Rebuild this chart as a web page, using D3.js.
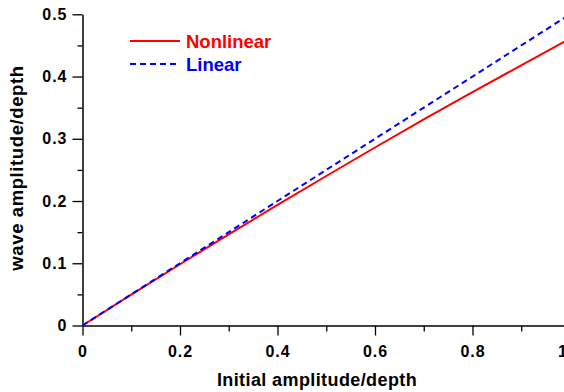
<!DOCTYPE html>
<html>
<head>
<meta charset="utf-8">
<script src="https://cdn.jsdelivr.net/npm/d3@7"></script>
<style>
  body { margin: 0; background: #fff; }
  svg { display: block; font-family: "Liberation Sans", Arial, sans-serif; font-weight: bold; }
</style>
</head>
<body>
<div id="chart"></div>
<script>
// values
var xValues = [0, 0.1, 0.2, 0.3, 0.4, 0.5, 0.6, 0.7, 0.8, 0.9, 1.0];
var nonlinear = [0, 0.0496, 0.0984, 0.1465, 0.1938, 0.2402, 0.286, 0.331, 0.375, 0.418, 0.461];
var linear = [0, 0.05, 0.10, 0.15, 0.20, 0.25, 0.30, 0.35, 0.40, 0.45, 0.50];
var xTicks = [0, 0.2, 0.4, 0.6, 0.8, 1.0];
var yTicks = [0, 0.1, 0.2, 0.3, 0.4, 0.5];
var seriesNames = ["Nonlinear", "Linear"];

var width = 564, height = 392;
var margin = { left: 82.5, top: 14.3, right: 570, bottom: 325.5 };

var svg = d3.select("#chart")
            .append("svg")
            .attr("width", width)
            .attr("height", height);

var xScale = d3.scaleLinear().domain([0, 1]).range([margin.left, margin.right]);
var yScale = d3.scaleLinear().domain([0, 0.5]).range([margin.bottom, margin.top]);

var fmt = function(d) { return d === 0 ? "0" : d3.format(".1f")(d); };

// minor ticks
svg.append("g")
   .attr("transform", "translate(0," + margin.bottom + ")")
   .call(d3.axisBottom(xScale).tickValues([0.1, 0.3, 0.5, 0.7, 0.9]).tickSize(6).tickFormat(""))
   .call(function(g) { g.select(".domain").remove(); });
svg.append("g")
   .attr("transform", "translate(" + margin.left + ",0)")
   .call(d3.axisLeft(yScale).tickValues([0.05, 0.15, 0.25, 0.35, 0.45]).tickSize(5).tickFormat(""))
   .call(function(g) { g.select(".domain").remove(); });

// major axes
svg.append("g")
   .attr("class", "x axis")
   .attr("transform", "translate(0," + margin.bottom + ")")
   .call(d3.axisBottom(xScale).tickValues(xTicks).tickSize(10).tickSizeOuter(0).tickPadding(10).tickFormat(fmt));
svg.append("g")
   .attr("class", "y axis")
   .attr("transform", "translate(" + margin.left + ",0)")
   .call(d3.axisLeft(yScale).tickValues(yTicks).tickSize(10).tickSizeOuter(0).tickPadding(5).tickFormat(fmt));

svg.selectAll(".tick line").attr("stroke", "#000").attr("stroke-width", 1.3);
svg.selectAll(".domain").attr("stroke", "#000").attr("stroke-width", 1.5);
svg.selectAll(".tick text")
   .attr("fill", "#000")
   .style("font-size", "16px")
   .style("font-weight", "bold")
   .style("letter-spacing", "1px")
   .style("font-family", "'Liberation Sans', Arial, sans-serif");

// lines
var line = d3.line()
             .x(function(d, i) { return xScale(xValues[i]); })
             .y(function(d) { return yScale(d); });

svg.append("path")
   .datum(nonlinear)
   .attr("fill", "none")
   .attr("stroke", "#ff0000")
   .attr("stroke-width", 2)
   .attr("d", line);

svg.append("path")
   .datum(linear)
   .attr("fill", "none")
   .attr("stroke", "#0000ff")
   .attr("stroke-width", 2)
   .attr("stroke-dasharray", "6,4")
   .attr("d", line);

// legend
var legend = [
  { name: seriesNames[0], color: "#ff0000", dash: null, y: 41 },
  { name: seriesNames[1], color: "#0000ff", dash: "6,4", y: 64 }
];
legend.forEach(function(l) {
  svg.append("line")
     .attr("x1", 130).attr("x2", 180)
     .attr("y1", l.y).attr("y2", l.y)
     .attr("stroke", l.color)
     .attr("stroke-width", 2)
     .attr("stroke-dasharray", l.dash);
  svg.append("text")
     .attr("x", 186)
     .attr("y", l.y + 6.5)
     .attr("fill", l.color)
     .style("font-size", "18.5px")
     .text(l.name);
});

// axis titles
svg.append("text")
   .attr("x", 317)
   .attr("y", 386)
   .attr("text-anchor", "middle")
   .style("font-size", "18px")
   .style("letter-spacing", "0.4px")
   .text("Initial amplitude/depth");

svg.append("text")
   .attr("transform", "rotate(-90)")
   .attr("x", -168)
   .attr("y", 23)
   .attr("text-anchor", "middle")
   .style("font-size", "18.5px")
   .style("letter-spacing", "0.6px")
   .text("wave amplitude/depth");
</script>
</body>
</html>
